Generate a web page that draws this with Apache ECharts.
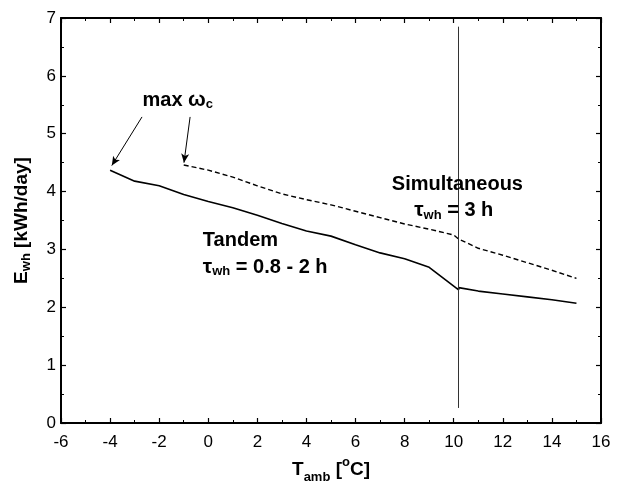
<!DOCTYPE html>
<html>
<head>
<meta charset="utf-8">
<script src="https://cdn.jsdelivr.net/npm/echarts@6/dist/echarts.min.js"></script>
<style>
html,body{margin:0;padding:0;background:#fff;}
#chart{width:617px;height:485px;}
</style>
</head>
<body>
<div id="chart"></div>
<script>
// ---- data ----
const tandemX = [-4, -3, -2, -1, 0, 1, 2, 3, 4, 5, 6, 7, 8, 9, 10.2, 10.2, 11, 12, 13, 14, 15];
const tandemY = [4.37, 4.18, 4.10, 3.95, 3.83, 3.72, 3.59, 3.45, 3.32, 3.23, 3.08, 2.94, 2.84, 2.69, 2.30, 2.34, 2.28, 2.23, 2.18, 2.13, 2.07];
const simulX = [-1, 0, 1, 2, 3, 4, 5, 6, 7, 8, 9, 10, 10.2, 11, 12, 13, 14, 15];
const simulY = [4.46, 4.37, 4.25, 4.10, 3.96, 3.86, 3.77, 3.66, 3.55, 3.44, 3.35, 3.25, 3.18, 3.02, 2.90, 2.77, 2.64, 2.50];
const xMin = -6, xMax = 16, xStep = 2;
const yMin = 0, yMax = 7, yStep = 1;
const switchT = 10.2;
const switchRange = [0.26, 6.85];
// annotation anchors (data coords)
const arrowMaxSolid = [[-2.70, 5.29], [-3.93, 4.45]];
const arrowMaxDash = [[-0.74, 5.29], [-0.99, 4.50]];

const FONT = '"Liberation Sans", Arial, Helvetica, sans-serif';

const chart = echarts.init(document.getElementById('chart'), null, {renderer: 'canvas'});

const axisLine = {show: true, onZero: false, lineStyle: {color: '#000', width: 2}};
const xBase = {
  type: 'value', min: xMin, max: xMax, interval: xStep,
  axisLine: axisLine,
  axisTick: {show: true, inside: true, length: 5, lineStyle: {color: '#000', width: 1.2}},
  minorTick: {show: true, splitNumber: 2, length: 3, lineStyle: {color: '#000', width: 1}},
  splitLine: {show: false}
};
const yBase = {
  type: 'value', min: yMin, max: yMax, interval: yStep,
  axisLine: axisLine,
  axisTick: {show: true, inside: true, length: 5, lineStyle: {color: '#000', width: 1.2}},
  minorTick: {show: true, splitNumber: 2, length: 3, lineStyle: {color: '#000', width: 1}},
  splitLine: {show: false}
};

const yNameRich = {
  b: {fontFamily: FONT, fontWeight: 'bold', fontSize: 19, color: '#000', verticalAlign: 'middle', lineHeight: 22},
  s: {fontFamily: FONT, fontWeight: 'bold', fontSize: 13, color: '#000', verticalAlign: 'bottom', lineHeight: 22}
};
const xNameRich = {
  b: {fontFamily: FONT, fontWeight: 'bold', fontSize: 19, color: '#000', verticalAlign: 'middle', lineHeight: 28},
  s: {fontFamily: FONT, fontWeight: 'bold', fontSize: 13, color: '#000', verticalAlign: 'bottom', lineHeight: 28},
  sup: {fontFamily: FONT, fontWeight: 'bold', fontSize: 13, color: '#000', verticalAlign: 'top'}
};

const option = {
  animation: false,
  backgroundColor: '#fff',
  grid: {left: 61, right: 16, top: 18, bottom: 62, containLabel: false, outerBoundsMode: 'none'},
  xAxis: [
    Object.assign({}, xBase, {
      position: 'bottom',
      axisLabel: {color: '#000', fontFamily: FONT, fontSize: 17, margin: 11},
      name: '{b|T}{s|amb}{b| [}{sup|o}{b|C]}',
      nameLocation: 'middle', nameGap: 33,
      nameTextStyle: {rich: xNameRich}
    }),
    Object.assign({}, xBase, {position: 'top', axisLabel: {show: false}})
  ],
  yAxis: [
    Object.assign({}, yBase, {
      position: 'left',
      axisLabel: {color: '#000', fontFamily: FONT, fontSize: 17, margin: 5},
      name: '{b|E}{s|wh}{b| [kWh/day]}',
      nameLocation: 'middle', nameGap: 28, nameRotate: 90,
      nameTextStyle: {rich: yNameRich}
    }),
    Object.assign({}, yBase, {position: 'right', axisLabel: {show: false}})
  ],
  series: [
    {
      name: 'Tandem', type: 'line', xAxisIndex: 0, yAxisIndex: 0,
      data: tandemX.map((x, i) => [x, tandemY[i]]),
      showSymbol: false, symbol: 'none',
      lineStyle: {color: '#000', width: 1.6, type: 'solid'},
      markLine: {
        silent: true, symbol: ['none', 'arrow'], symbolSize: [6, 9],
        label: {show: false},
        lineStyle: {color: '#000', width: 1, type: 'solid'},
        data: [
          [{coord: arrowMaxSolid[0]}, {coord: arrowMaxSolid[1]}],
          [{coord: arrowMaxDash[0]}, {coord: arrowMaxDash[1]}]
        ]
      }
    },
    {
      name: 'Simultaneous', type: 'line', xAxisIndex: 0, yAxisIndex: 0,
      data: simulX.map((x, i) => [x, simulY[i]]),
      showSymbol: false, symbol: 'none',
      lineStyle: {color: '#000', width: 1.4, type: [5, 3]},
      markLine: {
        silent: true, symbol: 'none', label: {show: false},
        lineStyle: {color: '#333', width: 1, type: 'solid'},
        data: [[{coord: [switchT, switchRange[0]]}, {coord: [switchT, switchRange[1]]}]]
      }
    }
  ]
};
chart.setOption(option);

// text annotations placed through the chart's own scales
const annRich = {
  b: {fontFamily: FONT, fontWeight: 'bold', fontSize: 20, color: '#000', verticalAlign: 'middle', lineHeight: 22},
  g: {fontFamily: FONT, fontWeight: 'bold', fontSize: 21, color: '#000', verticalAlign: 'middle', lineHeight: 22},
  s: {fontFamily: FONT, fontWeight: 'bold', fontSize: 13, color: '#000', verticalAlign: 'bottom', lineHeight: 22}
};
const annotations = [
  {at: [-2.68, 5.58], text: '{b|max }{g|ω}{s|c}', align: 'left'},
  {at: [-0.22, 3.15], text: '{b|Tandem}', align: 'left'},
  {at: [-0.22, 2.69], text: '{g|τ}{s|wh}{b| = 0.8 - 2 h}', align: 'left'},
  {at: [10.15, 4.12], text: '{b|Simultaneous}', align: 'center'},
  {at: [10.0, 3.67], text: '{g|τ}{s|wh}{b| = 3 h}', align: 'center'}
];
const graphics = annotations.map(a => {
  const p = chart.convertToPixel({gridIndex: 0}, a.at);
  return {
    type: 'text', x: p[0], y: p[1], z: 100,
    style: {text: a.text, rich: annRich, align: a.align, verticalAlign: 'middle', fill: '#000'}
  };
});
chart.setOption({graphic: graphics});
</script>
</body>
</html>
